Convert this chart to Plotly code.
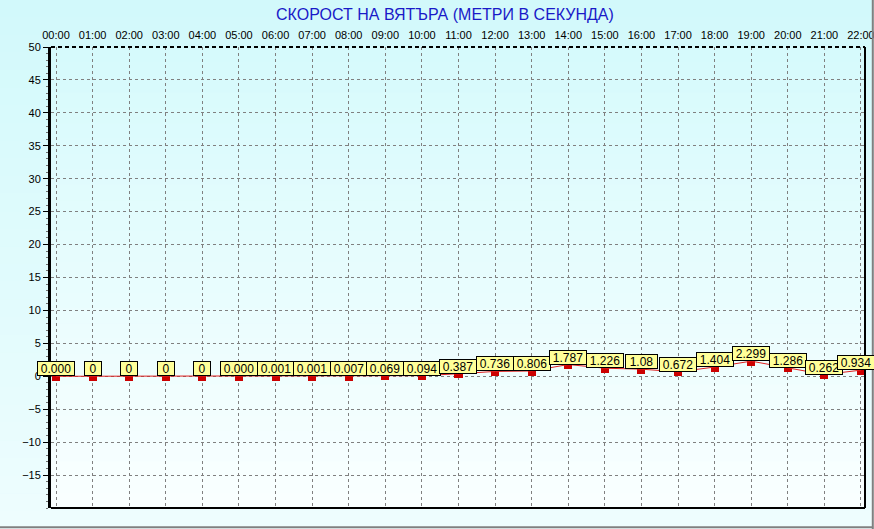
import plotly.graph_objects as go

# hourly wind speed readings (m/s)
hours = ["00:00", "01:00", "02:00", "03:00", "04:00", "05:00", "06:00", "07:00",
         "08:00", "09:00", "10:00", "11:00", "12:00", "13:00", "14:00", "15:00",
         "16:00", "17:00", "18:00", "19:00", "20:00", "21:00", "22:00"]
speeds = [0.0, 0, 0, 0, 0, 0.0, 0.001, 0.001, 0.007, 0.069, 0.094, 0.387,
          0.736, 0.806, 1.787, 1.226, 1.08, 0.672, 1.404, 2.299, 1.286, 0.262, 0.934]
speed_labels = ["0.000", "0", "0", "0", "0", "0.000", "0.001", "0.001", "0.007",
                "0.069", "0.094", "0.387", "0.736", "0.806", "1.787", "1.226",
                "1.08", "0.672", "1.404", "2.299", "1.286", "0.262", "0.934"]
y_ticks = [-15, -10, -5, 0, 5, 10, 15, 20, 25, 30, 35, 40, 45, 50]

TITLE = "СКОРОСТ НА ВЯТЪРА (МЕТРИ В СЕКУНДА)"
W, H = 874, 529
L, R, T, B = 51, 9, 47, 21
X_RANGE = [-0.137, 22.11]

xs = list(range(len(hours)))
fig = go.Figure()

# line through the readings
fig.add_trace(go.Scatter(x=xs, y=speeds, mode="lines",
                         line=dict(color="#E02020", width=1),
                         hoverinfo="skip", showlegend=False))

# small red blocks hanging just under each reading
fig.add_trace(go.Bar(x=xs, y=[-0.7] * len(xs), base=speeds, width=0.22,
                     marker=dict(color="#CC0000", line=dict(width=0)),
                     showlegend=False, hoverinfo="skip"))

# yellow value boxes (text nudged inward when it would run off the right edge)
pw, ph = W - L - R, H - T - B
for x, v, lab in zip(xs, speeds, speed_labels):
    bw = 5 * len(lab) + 9
    cx = L + (x - X_RANGE[0]) / (X_RANGE[1] - X_RANGE[0]) * pw
    shift = min(0, (W - 3) - (cx + 3 * len(lab)))
    fig.add_annotation(x=x, y=v, text=lab, showarrow=False, yanchor="bottom",
                       xanchor="center", xshift=shift, bgcolor="#FFFF99",
                       bordercolor="black", borderwidth=1, borderpad=1,
                       width=bw, height=11,
                       font=dict(family="Arial", size=12, color="black"))

shapes = []

# page gradient (paper coords extended into margins)
x0p, x1p = -L / pw, (W - L) / pw
y0p, y1p = -B / ph, (H - B) / ph
n = 30
top_c, bot_c = (210, 249, 251), (238, 253, 254)
for i in range(n):
    f = i / (n - 1)
    c = tuple(int(round(top_c[k] + (bot_c[k] - top_c[k]) * f)) for k in range(3))
    ya = y1p - (y1p - y0p) * i / n
    yb = y1p - (y1p - y0p) * (i + 1) / n
    shapes.append(dict(type="rect", xref="paper", yref="paper", x0=x0p, x1=x1p,
                       y0=yb, y1=ya + 0.001, line=dict(width=0),
                       fillcolor="rgb(%d,%d,%d)" % c, layer="below"))

# plot area gradient
top_c, bot_c = (214, 250, 252), (249, 255, 255)
for i in range(n):
    f = i / (n - 1)
    c = tuple(int(round(top_c[k] + (bot_c[k] - top_c[k]) * f)) for k in range(3))
    ya = 1 - i / n
    yb = 1 - (i + 1) / n
    shapes.append(dict(type="rect", xref="paper", yref="paper", x0=0, x1=1,
                       y0=yb, y1=ya + 0.001, line=dict(width=0),
                       fillcolor="rgb(%d,%d,%d)" % c, layer="below"))

# frame: dashed top, solid right and bottom
shapes.append(dict(type="line", xref="paper", yref="paper", x0=0, x1=1, y0=1, y1=1,
                   line=dict(color="black", width=2, dash="4px,3px")))
shapes.append(dict(type="line", xref="paper", yref="paper", x0=1, x1=1, y0=0, y1=1,
                   line=dict(color="black", width=2)))
shapes.append(dict(type="line", xref="paper", yref="paper", x0=0, x1=1, y0=0, y1=0,
                   line=dict(color="black", width=2)))
# grey sunken border of the picture
shapes.append(dict(type="line", xref="paper", yref="paper", x0=x0p, x1=x1p - 0.001,
                   y0=y0p + 0.004, y1=y0p + 0.004, line=dict(color="#808080", width=2)))
shapes.append(dict(type="line", xref="paper", yref="paper", x0=x1p - 0.0015, x1=x1p - 0.0015,
                   y0=y0p, y1=y1p, line=dict(color="#808080", width=2)))

fig.update_layout(
    width=W, height=H,
    margin=dict(l=L, r=R, t=T, b=B, autoexpand=False),
    paper_bgcolor="#D6FAFC",
    plot_bgcolor="rgba(0,0,0,0)",
    shapes=shapes,
    showlegend=False,
    bargap=0,
    title=dict(text=TITLE, x=0.484, xref="paper", xanchor="center",
               y=1 - 14 / H, yanchor="middle",
               font=dict(family="Arial", size=16, color="#1A1AC8")),
    font=dict(family="Arial", size=11, color="black"),
)

fig.update_xaxes(
    side="top", range=X_RANGE, automargin=False,
    tickmode="array", tickvals=xs, ticktext=hours,
    ticks="", showline=False, zeroline=False,
    ticklabelstandoff=5, ticklabeloverflow="allow",
    showgrid=True, gridcolor="#808080", gridwidth=1, griddash="3px,3px",
    tickfont=dict(family="Arial", size=11, color="black"),
)
fig.update_yaxes(
    range=[-20, 50], tickmode="array", tickvals=y_ticks, automargin=False,
    ticks="outside", ticklen=5, tickcolor="black", tickwidth=1,
    showline=True, linecolor="black", linewidth=3,
    zeroline=False,
    showgrid=True, gridcolor="#808080", gridwidth=1, griddash="3px,3px",
    tickfont=dict(family="Arial", size=11, color="black"),
    minor=dict(ticks="outside", ticklen=2, dtick=1, tickcolor="#707070", showgrid=False),
)

# drop the default page margin so the figure fills the window exactly
fig.write_html("out.html", config={"displayModeBar": False},
               post_script="document.body.style.margin='0';document.body.style.overflow='hidden';")
